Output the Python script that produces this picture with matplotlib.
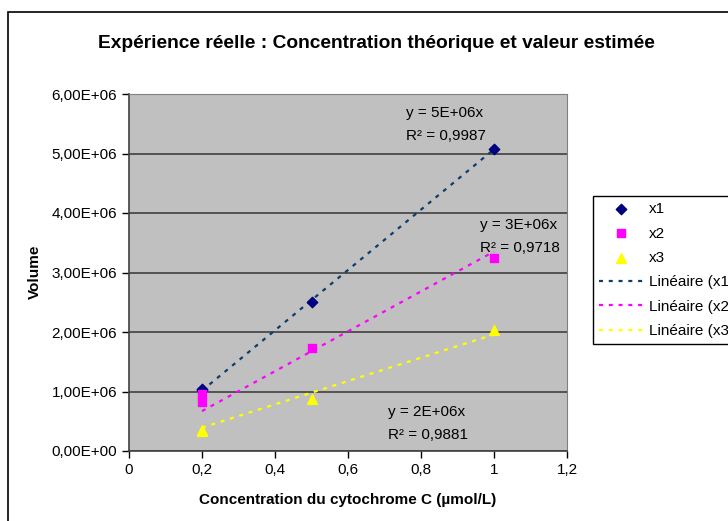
import matplotlib
matplotlib.use('Agg')
import matplotlib.pyplot as plt
from matplotlib.patches import Rectangle
import numpy as np

plt.rcParams['font.family'] = ['Liberation Sans', 'DejaVu Sans']

# concentrations (µmol/L) and measured volumes
conc = [0.2, 0.2, 0.5, 1.0]
x1 = [1.05e6, 1.02e6, 2.50e6, 5.08e6]
x2 = [0.95e6, 0.82e6, 1.73e6, 3.24e6]
x3 = [0.35e6, 0.33e6, 0.88e6, 2.03e6]

eq_labels = ["y = 5E+06x", "y = 3E+06x", "y = 2E+06x"]
r2_labels = ["0,9987", "0,9718", "0,9881"]

W, H = 728, 521
fig = plt.figure(figsize=(W / 100, H / 100), dpi=100)
fig.patch.set_facecolor('white')
ax = fig.add_axes([129 / W, 1 - 451 / H, (567 - 129) / W, (451 - 94) / H])
ax.set_facecolor('#C0C0C0')

# outer chart border (cut by the image edge)
fig.patches.append(Rectangle((8 / W, -0.1), 2, 1 - 12 / H + 0.1,
                             transform=fig.transFigure, fill=False,
                             ec='black', lw=1.2, zorder=0))

ax.scatter(conc, x1, marker='D', s=28, color='#000080', label='x1', zorder=4)
ax.scatter(conc, x2, marker='s', s=34, color='#FF00FF', label='x2', zorder=4)
ax.scatter(conc, x3, marker='^', s=50, color='#FFFF00', label='x3', zorder=4)

# linear trendlines forced through the origin
c = np.array(conc)
xs = np.array([c.min(), c.max()])
for ys, col, lab in [(x1, '#0B3D6E', 'Linéaire (x1)'),
                     (x2, '#FF00FF', 'Linéaire (x2)'),
                     (x3, '#FFFF00', 'Linéaire (x3)')]:
    ys = np.array(ys)
    slope = (c * ys).sum() / (c * c).sum()
    ax.plot(xs, slope * xs, color=col, lw=1.6, ls=(0, (1.8, 2.6)), label=lab, zorder=3)

ax.set_xlim(0, 1.2)
ax.set_ylim(0, 6e6)
ax.set_xticks(np.arange(0, 1.21, 0.2))
ax.set_xticklabels([f"{v:g}".replace('.', ',') for v in np.arange(0, 1.21, 0.2).round(1)])
ax.set_yticks(np.arange(0, 6.01e6, 1e6))
ax.set_yticklabels([f"{v:.2E}".replace('.', ',') for v in np.arange(0, 6.01e6, 1e6)])
ax.tick_params(labelsize=11, direction='out', length=5, width=1, pad=3.5)
ax.grid(True, axis='y', color='#404040', lw=1.2)
ax.set_axisbelow(True)
for s in ['top', 'right']:
    ax.spines[s].set_color('#808080')
for s in ['left', 'bottom']:
    ax.spines[s].set_color('#404040')
    ax.spines[s].set_linewidth(1.2)

fig.text(348 / W, 1 - 500 / H, "Concentration du cytochrome C (µmol/L)",
         ha='center', va='center', fontsize=11, fontweight='bold')
fig.text(35 / W, 1 - 272 / H, "Volume", rotation=90,
         ha='center', va='center', fontsize=11, fontweight='bold')
fig.text(376 / W, 1 - 43 / H, "Expérience réelle : Concentration théorique et valeur estimée",
         ha='center', va='center', fontsize=13.8, fontweight='bold')

# trendline equations
pos = [(406, 113), (480, 225), (388, 412)]
for (px, py), eq, r2 in zip(pos, eq_labels, r2_labels):
    fig.text(px / W, 1 - py / H, eq, fontsize=11, va='center')
    fig.text(px / W, 1 - (py + 23) / H, "R² = " + r2, fontsize=11, va='center')

leg = ax.legend(loc='upper left', bbox_to_anchor=(593 / W, 1 - 196 / H),
                bbox_transform=fig.transFigure, fontsize=11, frameon=True,
                fancybox=False, edgecolor='black', framealpha=1,
                handlelength=2.9, handletextpad=0.35, borderpad=0.4,
                labelspacing=0.68, borderaxespad=0)
leg.get_frame().set_linewidth(1)

fig.savefig("out.png", dpi=100)
